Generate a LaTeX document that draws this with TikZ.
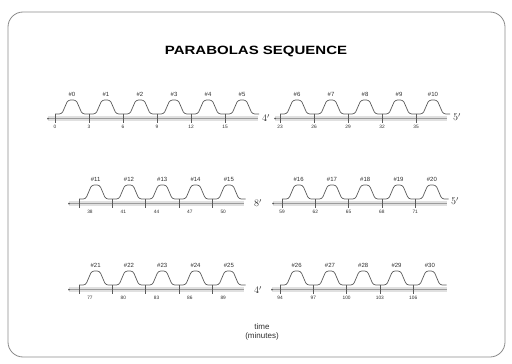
\documentclass[tikz,border=0pt]{standalone}
\usepackage{fontspec}
\setsansfont{Liberation Sans}
\usepackage{tikz}
\usetikzlibrary{positioning, calc}

\definecolor{frameg}{HTML}{8A8A8A}
\definecolor{lineg}{HTML}{5A5A5A}
\definecolor{bandg}{HTML}{E0E0E0}
\definecolor{textg}{HTML}{2E2E2E}

% spacing of the ticks, set before each train
\def\tsp{34}

% one pulse train: name, y of the pulse base, start x, first tick x, end x, label shift, list
\newcommand{\pulsetrain}[7]{%
  \coordinate (#1-s) at (#3,{#2+4.5});
  \coordinate (#1-e) at (#5,{#2+4.5});
  \draw[band] (#1-s) -- (#1-e);
  \draw[axisline] (#1-s) -- (#1-e);
  \fill[lineg] (#1-s) circle (1);
  \foreach \n/\t [count=\k from 0] in {#7}{
    \pgfmathsetmacro\xt{#4+\k*\tsp}
    \coordinate (#1-t\k) at (\xt,#2);
    \draw[tickmark] (#1-t\k) -- (\xt,{#2+9});
    \draw[bump] (#1-t\k) -- ({\xt+0.2*\tsp},#2)
      -- ({\xt+0.38*\tsp},{#2-14}) -- ({\xt+0.62*\tsp},{#2-14})
      -- ({\xt+0.8*\tsp},#2) -- ({\xt+\tsp},#2);
    \node[pulse label] (#1-p\k) at ({\xt+0.5*\tsp},{#2-20}) {\#\n};
    \node[tick label] (#1-l\k) at ({\xt+#6},{#2+13}) {\t};
  }
}

\begin{document}
\begin{tikzpicture}[
    x=1pt, y=-1pt,
    band/.style={draw=bandg, line width=5pt},
    axisline/.style={draw=lineg!60, line width=0.4pt},
    tickmark/.style={draw=lineg, line width=0.7pt},
    bump/.style={draw=lineg, line width=0.7pt, rounded corners=2.5pt},
    pulse label/.style={font=\sffamily\fontsize{6}{6}\selectfont, text=textg, inner sep=0pt},
    tick label/.style={font=\sffamily\fontsize{4.8}{4.8}\selectfont, text=textg, inner sep=0pt},
    gap label/.style={font=\fontsize{10}{10}\selectfont, text=textg, inner sep=0pt},
    title/.style={font=\sffamily\bfseries\fontsize{12}{12}\selectfont, inner sep=0pt}
]
\useasboundingbox (0,0) rectangle (512,364);

% Frame and title
\draw[frameg, line width=0.8pt, rounded corners=15pt] (8,12) rectangle (505,357);
\node[title] (title) at (256,51) {\scalebox{1.25}[1]{PARABOLAS SEQUENCE}};

% First row
\def\tsp{34}
\pulsetrain{ra}{114}{48}{55}{258}{0}{0/0,1/3,2/6,3/9,4/12,5/15}
\node[gap label] (gapa) at (266,118) {$4'$};
\pulsetrain{rb}{114}{275}{280}{447}{0}{6/23,7/26,8/29,9/32,10/35}
\node[gap label] (enda) at (457,117) {$5'$};

% Second row
\def\tsp{33.3}
\pulsetrain{rc}{199}{69}{79}{244}{11}{11/38,12/41,13/44,14/47,15/50}
\node[gap label] (gapb) at (258,203) {$8'$};
\pulsetrain{rd}{199}{273}{282}{447}{0}{16/59,17/62,18/65,19/68,20/71}
\node[gap label] (endb) at (455,201) {$5'$};

% Third row
\pulsetrain{re}{285}{69}{79}{244}{11}{21/77,22/80,23/83,24/86,25/89}
\node[gap label] (gapc) at (258,290) {$4'$};
\pulsetrain{rf}{285}{272}{280}{447}{0}{26/94,27/97,28/100,29/103,30/106}

% Axis caption
\node[font=\sffamily\fontsize{8}{9}\selectfont, text=textg, align=center, inner sep=0pt] (tm) at (262,332) {time\\(minutes)};

\end{tikzpicture}
\end{document}
